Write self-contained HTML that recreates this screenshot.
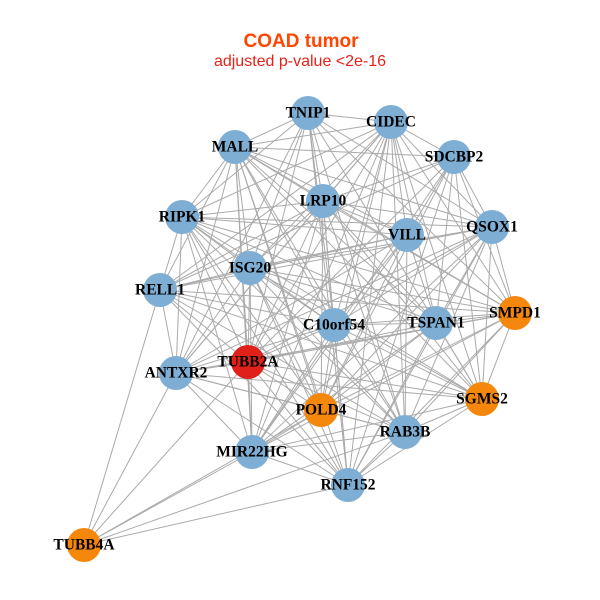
<!DOCTYPE html>
<html><head><meta charset="utf-8"><style>
html,body{margin:0;padding:0;background:#fff;}
svg{display:block;}
.l{font-family:"Liberation Serif",serif;font-weight:bold;font-size:15.5px;fill:#000;text-anchor:middle;dominant-baseline:central;}
</style></head><body>
<svg id="s" width="600" height="600" xmlns="http://www.w3.org/2000/svg">
<text x="301" y="47" text-anchor="middle" font-family="Liberation Sans,sans-serif" font-weight="bold" font-size="19" fill="#ff4500">COAD tumor</text>
<text x="300" y="66" text-anchor="middle" font-family="Liberation Sans,sans-serif" font-size="16" fill="#e8211b">adjusted p-value &lt;2e-16</text>
<g id="e" stroke="#aaaaaa" stroke-width="1"></g>
<g id="n"></g>
<g>
<text class="l" x="308" y="113">TNIP1</text>
<text class="l" x="391" y="122">CIDEC</text>
<text class="l" x="235" y="147">MALL</text>
<text class="l" x="454" y="157">SDCBP2</text>
<text class="l" x="323" y="201">LRP10</text>
<text class="l" x="182" y="217">RIPK1</text>
<text class="l" x="407" y="235">VILL</text>
<text class="l" x="492" y="227">QSOX1</text>
<text class="l" x="250" y="268">ISG20</text>
<text class="l" x="160" y="290">RELL1</text>
<text class="l" x="515" y="313">SMPD1</text>
<text class="l" x="334" y="325">C10orf54</text>
<text class="l" x="436" y="323">TSPAN1</text>
<text class="l" x="248" y="362">TUBB2A</text>
<text class="l" x="176" y="373">ANTXR2</text>
<text class="l" x="321" y="410">POLD4</text>
<text class="l" x="482" y="399">SGMS2</text>
<text class="l" x="405" y="432">RAB3B</text>
<text class="l" x="252" y="452">MIR22HG</text>
<text class="l" x="348" y="485">RNF152</text>
<text class="l" x="84" y="545">TUBB4A</text>
</g>
</svg>
<script>
var N=[[308,113,'b'],[391,122,'b'],[235,147,'b'],[454,157,'b'],[323,201,'b'],[182,217,'b'],[407,235,'b'],[492,227,'b'],[250,268,'b'],[160,290,'b'],[515,313,'o'],[334,325,'b'],[436,323,'b'],[248,362,'r'],[176,373,'b'],[321,410,'o'],[482,399,'o'],[405,432,'b'],[252,452,'b'],[348,485,'b'],[84,545,'o']];
var C={b:'#7eaed3',o:'#f5880c',r:'#e0201b'};
var ns='http://www.w3.org/2000/svg',e=document.getElementById('e'),g=document.getElementById('n');
function L(a,b){var l=document.createElementNS(ns,'line');l.setAttribute('x1',N[a][0]);l.setAttribute('y1',N[a][1]);l.setAttribute('x2',N[b][0]);l.setAttribute('y2',N[b][1]);e.appendChild(l);}
for(var i=0;i<20;i++)for(var j=i+1;j<20;j++){if((i*7+j*3)%9!=0)L(i,j);}
[9,14,13,18,19,17,15].forEach(function(k){L(20,k);});
N.forEach(function(p){var c=document.createElementNS(ns,'circle');c.setAttribute('cx',p[0]);c.setAttribute('cy',p[1]);c.setAttribute('r',17);c.setAttribute('fill',C[p[2]]);g.appendChild(c);});
</script>
</body></html>
